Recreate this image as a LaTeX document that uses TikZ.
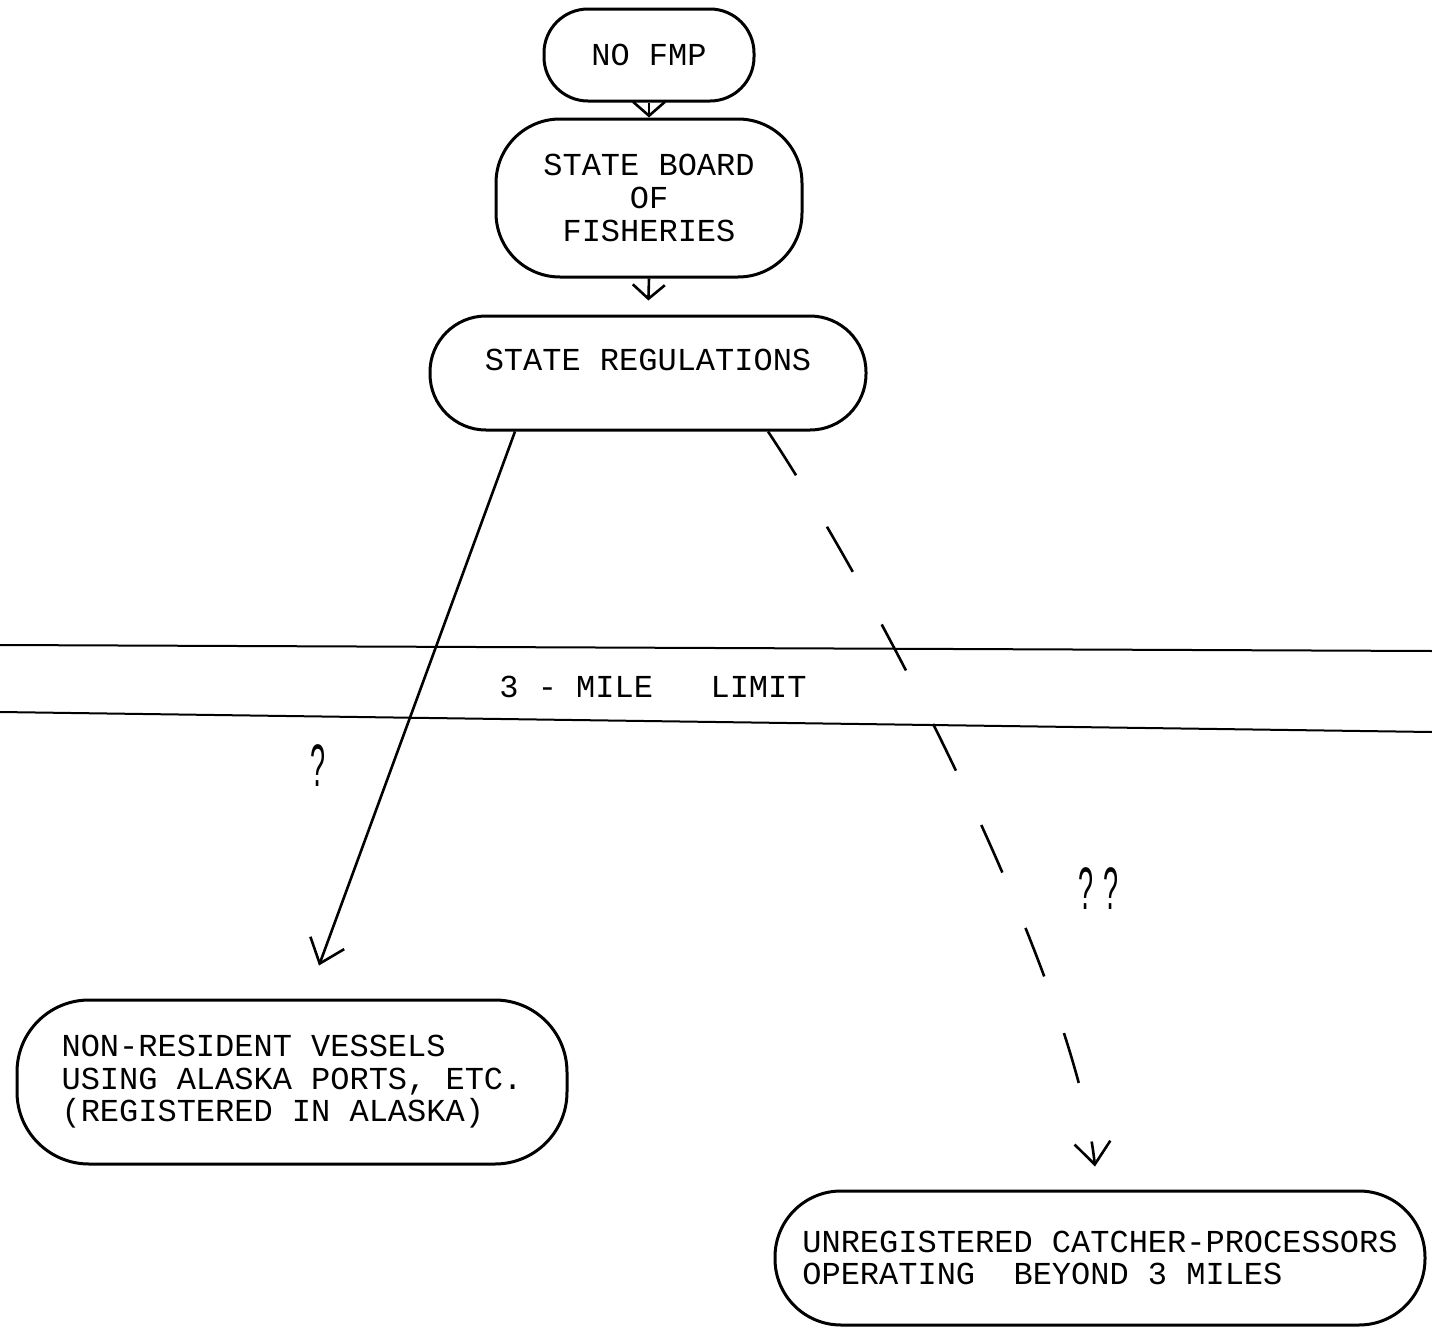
\documentclass[tikz,border=0pt]{standalone}
\usepackage{fontspec}
\setmonofont{Liberation Mono}
\setsansfont{Liberation Sans}
\usepackage{graphicx}
\usetikzlibrary{arrows.meta,calc}

\begin{document}
\begin{tikzpicture}[
    x=0.5pt, y=-0.5pt,
    blob/.style={draw, line width=1.5pt, rounded corners=#1, inner sep=0pt,
        font=\ttfamily\fontsize{16}{16.3}\selectfont},
    blob/.default=28pt,
    flow/.style={line width=1.3pt,
        -{Straight Barb[length=7pt,width=16pt,line width=1.3pt]}},
    longflow/.style={flow,
        -{Straight Barb[length=11pt,width=18pt,line width=1.3pt]}},
    ask/.style={font=\sffamily\fontsize{30}{30}\selectfont}
]
\useasboundingbox (0,0) rectangle (1432,1328);

% boxes, top to bottom
\node[blob=22pt, minimum width=105pt, minimum height=46pt] (nofmp) at (649,55) {NO FMP};
\node[blob=32pt, minimum width=153pt, minimum height=79pt, align=center] (board) at (649,198)
    {STATE BOARD\\OF\\FISHERIES};
\node[blob, minimum width=218pt, minimum height=57pt, text depth=13pt] (regs) at (648,373)
    {STATE REGULATIONS};
\node[blob=36pt, minimum width=275pt, minimum height=82pt, align=left] (nonres) at (292,1082)
    {NON-RESIDENT VESSELS\\USING ALASKA PORTS, ETC.\\(REGISTERED IN ALASKA)};
\node[blob=33pt, minimum width=325pt, minimum height=67pt, align=left] (unreg) at (1100,1258)
    {UNREGISTERED CATCHER-PROCESSORS\\OPERATING~~BEYOND 3 MILES};

% the 3-mile band
\draw[line width=1pt] (0,645) -- (1432,651);
\draw[line width=1pt] (0,712) -- (1432,732);
\node[font=\ttfamily\fontsize{16}{16}\selectfont] (limit) at (653,687) {3 - MILE~~~LIMIT};

% arrows
\draw[flow] (nofmp.south) -- (board.north);
\draw[flow, shorten >=7pt] (board.south) -- (regs.north);
\draw[longflow] ($(regs.south)+(-133,0)$) -- ($(nonres.north)+(27,-33)$);
\draw[longflow, dash pattern=on 26pt off 30pt] ($(regs.south)+(120,0)$)
    .. controls (880,600) and (1075,980) .. ($(unreg.north)+(-5,-23)$);

\node[ask] (q1) at (318,766) {\scalebox{0.45}[1]{?}};
\node[ask] (q2) at (1099,889) {\scalebox{0.45}[1]{? ?}};

\end{tikzpicture}
\end{document}
